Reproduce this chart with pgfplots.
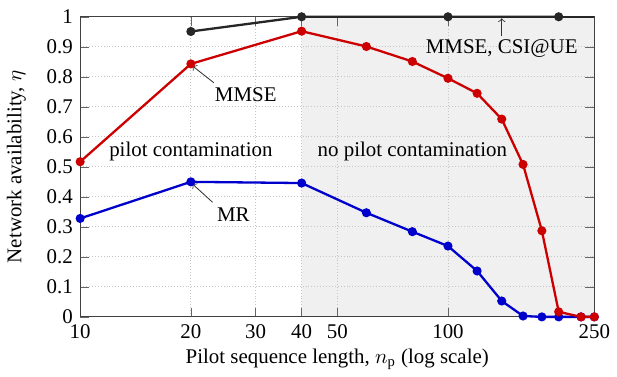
\documentclass[border=0pt]{standalone}
\usepackage{pgfplots}
\pgfplotsset{compat=1.18}
\usepackage{fontspec}
\setmainfont{Liberation Serif}
\definecolor{mmsered}{RGB}{204,0,0}
\definecolor{mrblue}{RGB}{0,0,204}
\definecolor{shade}{RGB}{240,240,240}

\begin{document}
\begin{tikzpicture}
\begin{axis}[
  set layers,
  scale only axis,
  width=245bp, height=143bp,
  xmode=log,
  xmin=10, xmax=250,
  ymin=0, ymax=1,
  xtick={10,20,30,40,50,100,250},
  xticklabels={10,20,30,40,50,100,250},
  minor xtick={},
  ytick={0,0.1,...,1},
  yticklabels={0,0.1,0.2,0.3,0.4,0.5,0.6,0.7,0.8,0.9,1},
  /pgf/number format/assume math mode=true,
  grid=major,
  major grid style={densely dotted, gray!45},
  axis line style={black!75},
  tick style={black!60},
  xlabel={Pilot sequence length, $n_\mathrm{p}$ (log scale)},
  xlabel style={yshift=2bp},
  ylabel={Network availability, $\eta$},
  ylabel style={yshift=3bp},
  every axis plot/.append style={line width=1.1pt, mark=*, mark size=1.6pt},
  clip=false,
]
% shaded region without pilot contamination
\addplot[on layer=axis background, fill=shade, draw=none, mark=none]
  coordinates {(40,0) (250,0) (250,1) (40,1)} \closedcycle;

% MR
\addplot[color=mrblue, mark options={fill=mrblue}] coordinates {
  (10,0.328) (20,0.450) (40,0.446) (60,0.347) (80,0.284) (100,0.236)
  (120,0.153) (140,0.053) (160,0.003) (180,0) (200,0) (230,0) (250,0)
};
% MMSE
\addplot[color=mmsered, mark options={fill=mmsered}] coordinates {
  (10,0.517) (20,0.843) (40,0.952) (60,0.901) (80,0.851) (100,0.795)
  (120,0.745) (140,0.659) (160,0.508) (180,0.287) (200,0.017) (230,0) (250,0)
};
% MMSE, CSI@UE
\addplot[color=black!85, mark options={fill=black!85}] coordinates {
  (20,0.951) (40,1) (100,1) (200,1)
};
\addplot[color=black!85, mark=none] coordinates {(200,1) (250,1)};

\node at (axis cs:20,0.55) {pilot contamination};
\node at (axis cs:80,0.55) {no pilot contamination};

\node (mmse) at (axis cs:28.2,0.740) {MMSE};
\draw[->, thin, black!80] (axis cs:23.1,0.780) -- (axis cs:20.2,0.836);
\node (mr) at (axis cs:26.1,0.342) {MR};
\draw[->, thin, black!80] (axis cs:22.9,0.382) -- (axis cs:20.2,0.443);
\node at (axis cs:140,0.893) {MMSE, CSI@UE};
\draw[->, thin, black!80] (axis cs:140,0.935) -- (axis cs:140,0.995);

% a little room above the plot
\path (rel axis cs:0,1) ++(0,8bp);
\end{axis}
\end{tikzpicture}
\end{document}
